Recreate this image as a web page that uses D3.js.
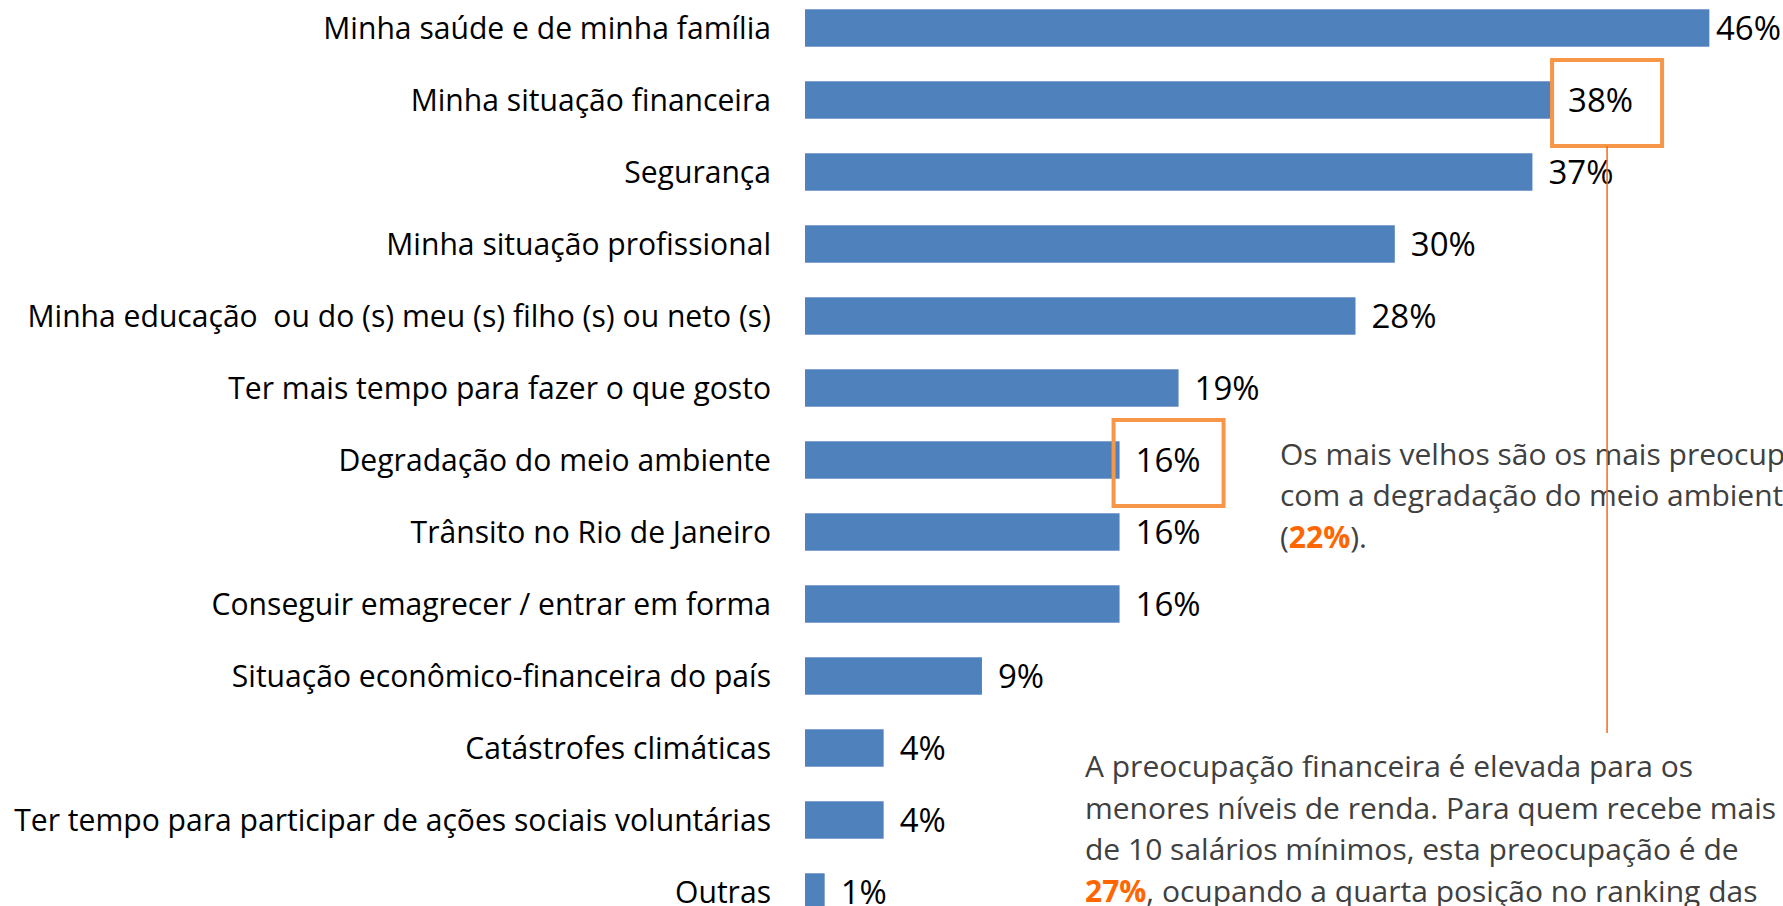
<!DOCTYPE html>
<html>
<head>
<meta charset="utf-8">
<script src="https://cdn.jsdelivr.net/npm/d3@7"></script>
<style>
  html, body { margin: 0; padding: 0; background: #fff; overflow: hidden; }
  svg { display: block; font-family: "Open Sans", "Noto Sans", sans-serif; }
  text { white-space: pre; }
</style>
</head>
<body>
<svg id="chart" width="1783" height="906"></svg>
<script>
// ---- Data ----
const categories = [
  "Minha saúde e de minha família",
  "Minha situação financeira",
  "Segurança",
  "Minha situação profissional",
  "Minha educação  ou do (s) meu (s) filho (s) ou neto (s)",
  "Ter mais tempo para fazer o que gosto",
  "Degradação do meio ambiente",
  "Trânsito no Rio de Janeiro",
  "Conseguir emagrecer / entrar em forma",
  "Situação econômico-financeira do país",
  "Catástrofes climáticas",
  "Ter tempo para participar de ações sociais voluntárias",
  "Outras"
];
const values = [46, 38, 37, 30, 28, 19, 16, 16, 16, 9, 4, 4, 1];
const highlighted = [1, 6]; // indices of boxed labels

const note1Lines = [
  [{t: "Os mais velhos são os mais preocupados"}],
  [{t: "com a degradação do meio ambiente"}],
  [{t: "("}, {t: "22%", hl: true}, {t: ")."}]
];
const note2Lines = [
  [{t: "A preocupação financeira é elevada para os"}],
  [{t: "menores níveis de renda. Para quem recebe mais"}],
  [{t: "de 10 salários mínimos, esta preocupação é de"}],
  [{t: "27%", hl: true}, {t: ", ocupando a quarta posição no ranking das"}],
  [{t: "preocupações."}]
];

// ---- Drawing ----
const W = 1783, H = 906;
const svg = d3.select("#chart");

const x = d3.scaleLinear().domain([0, 50]).range([805, 805 + 19.66 * 50]);
const y = d3.scaleBand().domain(categories).range([-8, 928])
  .paddingInner(0.48).paddingOuter(0.24);

const barColor = "#4F81BD";
const orange = "#F79646";
const lineOrange = "#F26B1D";
const hlOrange = "#FF6600";

// bars
svg.append("g").selectAll("rect").data(values).join("rect")
  .attr("x", x(0))
  .attr("y", (d, i) => y(categories[i]))
  .attr("width", d => x(d) - x(0))
  .attr("height", y.bandwidth())
  .attr("fill", barColor);

// category labels
svg.append("g").selectAll("text").data(categories).join("text")
  .attr("x", 771)
  .attr("y", d => y(d) + y.bandwidth() / 2)
  .attr("dy", "0.36em")
  .attr("text-anchor", "end")
  .attr("font-size", 30.1)
  .attr("fill", "#000")
  .text(d => d);

// value labels
const vl = svg.append("g").selectAll("text").data(values).join("text")
  .attr("x", d => x(d) + 16)
  .attr("y", (d, i) => y(categories[i]) + y.bandwidth() / 2)
  .attr("dy", "0.36em")
  .attr("font-size", 33)
  .attr("fill", "#000")
  .text(d => d + "%");
vl.each(function() {
  const el = d3.select(this);
  const w = this.getComputedTextLength();
  const xx = +el.attr("x");
  if (xx + w > W - 2) el.attr("x", W - 2 - w);
});

// highlight boxes
const boxW = 110;
const boxOffset = [0, -6];
highlighted.forEach((i, k) => {
  const cy = y(categories[i]) + y.bandwidth() / 2;
  svg.append("rect")
    .attr("x", x(values[i]) + boxOffset[k])
    .attr("y", cy - 40)
    .attr("width", boxW)
    .attr("height", 86)
    .attr("fill", "none")
    .attr("stroke", orange)
    .attr("stroke-width", 4);
});

// annotations
function drawNote(lines, x0, y0, lh) {
  const g = svg.append("g");
  lines.forEach((ln, k) => {
    const t = g.append("text")
      .attr("x", x0).attr("y", y0 + k * lh)
      .attr("font-size", 30).attr("fill", "#404040");
    ln.forEach(seg => {
      const s = t.append("tspan").text(seg.t);
      if (seg.hl) s.attr("fill", hlOrange).attr("font-weight", "bold");
    });
  });
}
drawNote(note1Lines, 1280, 465, 41.3);
drawNote(note2Lines, 1085, 777, 41.5);

// connector line from first box
const b0 = highlighted[0];
const cy0 = y(categories[b0]) + y.bandwidth() / 2;
const lx = x(values[b0]) + boxOffset[0] + boxW / 2;
svg.append("line")
  .attr("x1", lx)
  .attr("x2", lx)
  .attr("y1", cy0 + 46)
  .attr("y2", 733)
  .attr("stroke", lineOrange)
  .attr("stroke-width", 1.5);
</script>
</body>
</html>
